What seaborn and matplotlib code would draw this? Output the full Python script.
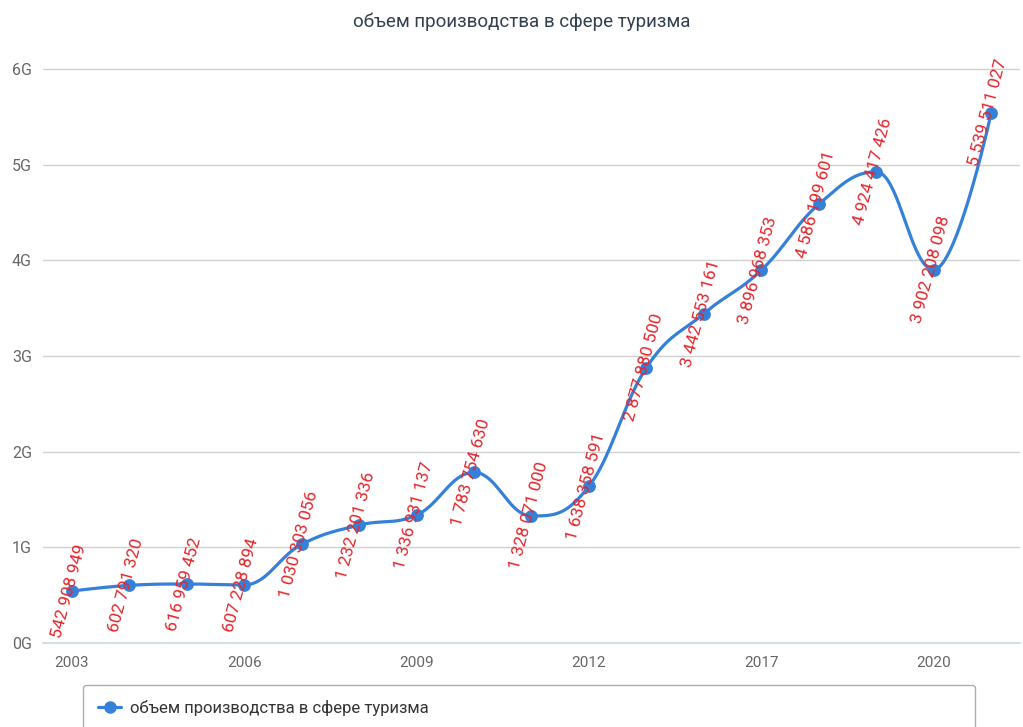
import numpy as np
import matplotlib
matplotlib.use("Agg")
import matplotlib.pyplot as plt
import seaborn as sns
from matplotlib.lines import Line2D
from matplotlib.ticker import FuncFormatter

# данные
years = ["2003", "2004", "2005", "2006", "2007", "2008", "2009", "2010", "2011",
         "2012", "2015", "2016", "2017", "2018", "2019", "2020", "2021"]
values = [542908949, 602791320, 616959452, 607228894, 1030303056, 1232201336,
          1336931137, 1783754630, 1328071000, 1638358591, 2877880500,
          3442553161, 3896968353, 4586199601, 4924417426, 3902208098,
          5539511027]
shown_years = ["2003", "2006", "2009", "2012", "2017", "2020"]
series_name = "объем производства в сфере туризма"

blue = "#3580d8"
red = "#e4262c"


def spline_curve(xs, ys, n=40):
    # сглаживание в стиле highcharts (кубические безье)
    xs = np.asarray(xs, float)
    ys = np.asarray(ys, float)
    k = len(xs)
    lc = np.column_stack([xs, ys]).copy()
    rc = np.column_stack([xs, ys]).copy()
    s = 1.5
    d = s + 1
    for i in range(1, k - 1):
        px, py, x, y, nx, ny = xs[i-1], ys[i-1], xs[i], ys[i], xs[i+1], ys[i+1]
        lx, ly = (s * x + px) / d, (s * y + py) / d
        rx, ry = (s * x + nx) / d, (s * y + ny) / d
        if rx != lx:
            corr = (ry - ly) * (rx - x) / (rx - lx) + y - ry
            ly += corr
            ry += corr
        if ly > max(py, y):
            ly = max(py, y)
            ry = 2 * y - ly
        elif ly < min(py, y):
            ly = min(py, y)
            ry = 2 * y - ly
        if ry > max(y, ny):
            ry = max(y, ny)
            ly = 2 * y - ry
        elif ry < min(y, ny):
            ry = min(y, ny)
            ly = 2 * y - ry
        lc[i] = [lx, ly]
        rc[i] = [rx, ry]
    t = np.linspace(0, 1, n)[:, None]
    pts = []
    for i in range(k - 1):
        p0 = np.array([xs[i], ys[i]])
        p3 = np.array([xs[i+1], ys[i+1]])
        p1 = rc[i]
        p2 = lc[i+1]
        seg = ((1 - t) ** 3) * p0 + 3 * ((1 - t) ** 2) * t * p1 \
            + 3 * (1 - t) * t ** 2 * p2 + t ** 3 * p3
        pts.append(seg if i == 0 else seg[1:])
    pts = np.vstack(pts)
    return pts[:, 0], pts[:, 1]


sns.set_style("white")
plt.rcParams["font.family"] = ["Roboto", "DejaVu Sans"]

fig = plt.figure(figsize=(10.23, 7.27), dpi=100)
ax = fig.add_axes([0.042, 0.1155, 0.955, 0.816])

pos = np.arange(len(years))
cx, cy = spline_curve(pos, values)
sns.lineplot(x=cx, y=cy, sort=False, color=blue, linewidth=2.3, ax=ax)
sns.scatterplot(x=pos, y=values, color=blue, s=85, edgecolor=blue,
                linewidth=0, zorder=3, ax=ax)

for p, v in zip(pos, values):
    ax.text(p - 0.05, v, f"{v:,}".replace(",", " "), color=red, fontsize=12.5,
            rotation=75, ha="center", va="center", rotation_mode="anchor",
            zorder=4)

ax.set_xlim(-0.5, len(years) - 0.5)
ax.set_ylim(0, 6.2e9)
ax.set_yticks(np.arange(0, 7) * 1e9)
ax.yaxis.set_major_formatter(FuncFormatter(lambda v, _: f"{int(round(v / 1e9))}G"))
ax.grid(axis="y", color="#d0d0d0", linewidth=1)

major = [years.index(y) for y in shown_years]
ax.set_xticks(major)
ax.set_xticklabels(shown_years)
ax.set_xticks(np.arange(-0.5, len(years)), minor=True)
ax.tick_params(axis="x", which="major", length=0, pad=9, labelsize=11,
               labelcolor="#666666")
ax.tick_params(axis="x", which="minor", length=4, color="#ccd6eb", width=1)
ax.tick_params(axis="y", length=0, pad=8, labelsize=11.5, labelcolor="#666666")

for side in ["top", "right", "left"]:
    ax.spines[side].set_visible(False)
ax.spines["bottom"].set_color("#ccd6eb")
ax.spines["bottom"].set_linewidth(1.2)

fig.suptitle(series_name, x=0.51, y=0.983, fontsize=13.5, color="#333f50")

handle = Line2D([0], [0], color=blue, linewidth=2.3, marker="o", markersize=8)
leg = fig.legend([handle], [series_name], loc="upper left",
                 bbox_to_anchor=(0.081, 0.058, 0.872, 0.0), mode="expand",
                 borderaxespad=0, frameon=True, fancybox=True, fontsize=12,
                 handlelength=1.4, handletextpad=0.5, borderpad=0.9,
                 labelcolor="#333333")
leg.get_frame().set_edgecolor("#999999")
leg.get_frame().set_linewidth(1)

fig.savefig("out.png", dpi=100)
